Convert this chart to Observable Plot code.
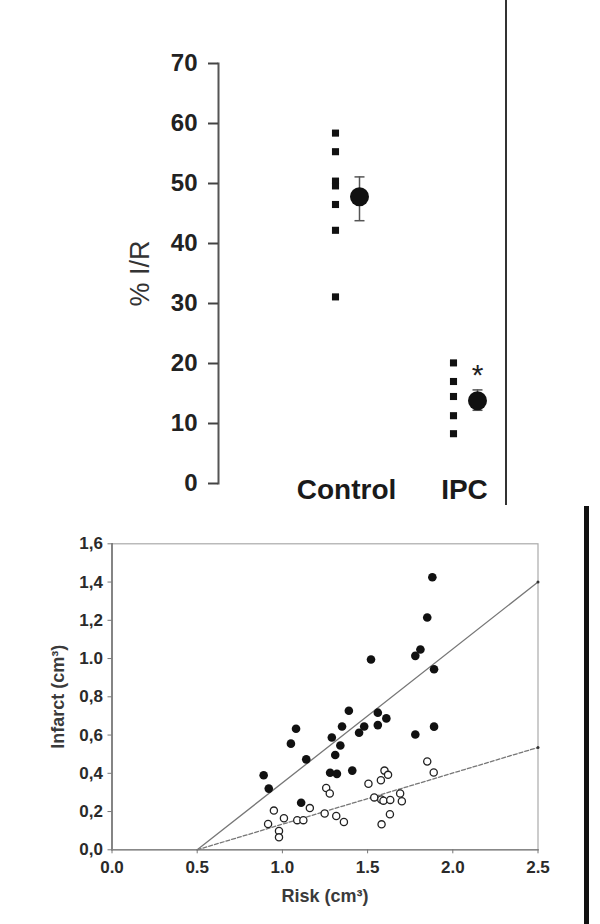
<!DOCTYPE html>
<html><head><meta charset="utf-8">
<script src="https://cdn.jsdelivr.net/npm/d3@7"></script>
<script src="https://cdn.jsdelivr.net/npm/@observablehq/plot@0.6"></script>
<style>
body{margin:0;background:#fff;}
#wrap{position:relative;width:600px;height:924px;overflow:hidden;font-family:"Liberation Sans",Arial,sans-serif;}
#top{position:absolute;left:0;top:0;}
#bottom{position:absolute;left:0;top:505px;}
.vline{position:absolute;}
</style></head><body>
<div id="wrap"><div id="top"></div><div id="bottom"></div>
<div class="vline" style="left:505px;top:0;width:2px;height:505px;background:#333"></div>
<div class="vline" style="left:584px;top:506px;width:5px;height:418px;background:#111"></div>
</div>
<script>
// ---- Top panel data ----
const categories = ["Control", "IPC"];
const controlValues = [58.4, 55.3, 50.4, 49.6, 46.5, 42.2, 31.1];
const ipcValues = [20.1, 17.0, 14.5, 11.3, 8.3];
const meanValues = [47.8, 13.8];
const semHigh = [51.1, 15.6];
const semLow = [43.8, 12.2];
const topTicks = [0, 10, 20, 30, 40, 50, 60, 70];
const topYLabel = "% I/R";
const starGroup = ["IPC"];
const starY = [18.0];

// ---- Bottom panel data ----
const ctrlRisk = [0.89, 0.92, 1.05, 1.08, 1.14, 1.11, 1.29, 1.28, 1.32, 1.31, 1.34, 1.35, 1.39, 1.41, 1.45, 1.48, 1.52, 1.56, 1.56, 1.61, 1.78, 1.81, 1.78, 1.85, 1.88, 1.89, 1.89];
const ctrlInfarct = [0.39, 0.32, 0.555, 0.633, 0.473, 0.246, 0.587, 0.403, 0.397, 0.496, 0.545, 0.645, 0.727, 0.414, 0.612, 0.645, 0.995, 0.717, 0.652, 0.687, 1.014, 1.047, 0.603, 1.215, 1.425, 0.944, 0.644];
const ipcRisk = [0.916, 0.95, 0.98, 0.98, 1.009, 1.087, 1.123, 1.161, 1.248, 1.257, 1.278, 1.316, 1.361, 1.505, 1.539, 1.578, 1.599, 1.62, 1.58, 1.593, 1.633, 1.582, 1.631, 1.691, 1.701, 1.85, 1.888];
const ipcInfarct = [0.135, 0.205, 0.098, 0.065, 0.165, 0.155, 0.155, 0.218, 0.19, 0.323, 0.294, 0.177, 0.145, 0.345, 0.274, 0.364, 0.414, 0.392, 0.263, 0.257, 0.261, 0.133, 0.186, 0.294, 0.254, 0.462, 0.404];
const fitRisk = [0.5, 2.5];
const ctrlFit = [0, 1.40];
const ipcFit = [0, 0.535];
const xTicks = [0, 0.5, 1.0, 1.5, 2.0, 2.5];
const xTickLabels = ["0.0", "0.5", "1.0", "1.5", "2.0", "2.5"];
const yTicks = [0, 0.2, 0.4, 0.6, 0.8, 1.0, 1.2, 1.4, 1.6];
const yTickLabels = ["0,0", "0,2", "0,4", "0,6", "0,8", "1.0", "1,2", "1,4", "1,6"];
const xLabel = "Risk (cm³)";
const yLabel = "Infarct (cm³)";

const FONT = "'Liberation Sans', Arial, sans-serif";

// ---- Top plot ----
const topData = [
  ...controlValues.map(v => ({group: categories[0], value: v})),
  ...ipcValues.map(v => ({group: categories[1], value: v}))
];
const meanData = categories.map((c, i) => ({group: c, mean: meanValues[i], lo: semLow[i], hi: semHigh[i]}));
const starData = starGroup.map((g, i) => ({group: g, y: starY[i], t: "*"}));
const capSymbol = {draw(ctx, size) { const w = Math.sqrt(size / Math.PI); ctx.moveTo(-w, 0); ctx.lineTo(w, 0); }};

const topPlot = Plot.plot({
  width: 600, height: 510,
  marginLeft: 218, marginRight: 94, marginTop: 63, marginBottom: 27,
  style: {fontFamily: FONT, background: "transparent", overflow: "visible"},
  x: {type: "point", domain: categories, range: [335, 453], padding: 0},
  y: {domain: [0, 70]},
  marks: [
    Plot.frame({anchor: "left", stroke: "#555", strokeWidth: 2}),
    Plot.axisY({ticks: topTicks, tickSize: 10, tickPadding: 11, fontSize: 24, fontWeight: "bold", fill: "#222", stroke: "#444", strokeWidth: 2, label: null}),
    Plot.axisX({tickSize: 0, tickPadding: -4, fontSize: 28, fontWeight: "bold", fill: "#1a1a1a", dx: 11, label: null}),
    Plot.text([topYLabel], {frameAnchor: "left", text: d => d, rotate: -90, dx: -78, textAnchor: "middle", lineAnchor: "middle", fontSize: 27, fill: "#333"}),
    Plot.dot(topData, {x: "group", y: "value", symbol: "square", r: 4, fill: "#111"}),
    Plot.ruleX(meanData, {x: "group", y1: "lo", y2: "hi", dx: 24, stroke: "#555", strokeWidth: 1.5}),
    Plot.dot(meanData, {x: "group", y: "hi", dx: 24, symbol: capSymbol, r: 5, stroke: "#555", strokeWidth: 1.5}),
    Plot.dot(meanData, {x: "group", y: "lo", dx: 24, symbol: capSymbol, r: 5, stroke: "#555", strokeWidth: 1.5}),
    Plot.dot(meanData, {x: "group", y: "mean", dx: 24, r: 9.5, fill: "#111"}),
    Plot.text(starData, {x: "group", y: "y", text: "t", dx: 24, fontSize: 30, fill: "#222"})
  ]
});
document.getElementById("top").appendChild(topPlot);

// ---- Bottom plot ----
const ctrlPts = ctrlRisk.map((r, i) => ({risk: r, infarct: ctrlInfarct[i]}));
const ipcPts = ipcRisk.map((r, i) => ({risk: r, infarct: ipcInfarct[i]}));
const ctrlLine = fitRisk.map((r, i) => ({risk: r, infarct: ctrlFit[i]}));
const ipcLine = fitRisk.map((r, i) => ({risk: r, infarct: ipcFit[i]}));

const bottomPlot = Plot.plot({
  width: 600, height: 419,
  marginLeft: 111.5, marginRight: 62.5, marginTop: 38.3, marginBottom: 74.7,
  style: {fontFamily: FONT, background: "transparent", overflow: "visible"},
  x: {domain: [0, 2.5]},
  y: {domain: [0, 1.6]},
  marks: [
    Plot.frame({stroke: "#aaa", strokeWidth: 1.2}),
    Plot.frame({anchor: "left", stroke: "#666", strokeWidth: 1.4}),
    Plot.frame({anchor: "bottom", stroke: "#888", strokeWidth: 1.4}),
    Plot.axisY({ticks: yTicks, tickFormat: d => yTickLabels[yTicks.indexOf(d)], tickSize: 4, tickPadding: 5, fontSize: 17, fontWeight: "bold", fill: "#2a2a2a", stroke: "#777", label: null}),
    Plot.axisX({ticks: xTicks, tickFormat: d => xTickLabels[xTicks.indexOf(d)], tickSize: 4, tickPadding: 7, fontSize: 17, fontWeight: "bold", fill: "#2a2a2a", stroke: "#777", label: null}),
    Plot.text([yLabel], {frameAnchor: "left", text: d => d, rotate: -90, dx: -54, textAnchor: "middle", lineAnchor: "middle", fontSize: 18, fontWeight: "bold", fill: "#3a3a3a"}),
    Plot.text([xLabel], {frameAnchor: "bottom", text: d => d, dy: 46, textAnchor: "middle", lineAnchor: "middle", fontSize: 18, fontWeight: "bold", fill: "#3a3a3a"}),
    Plot.line(ctrlLine, {x: "risk", y: "infarct", stroke: "#777", strokeWidth: 1.3}),
    Plot.line(ipcLine, {x: "risk", y: "infarct", stroke: "#777", strokeWidth: 1.3, strokeDasharray: "4,2"}),
    Plot.dot([...ctrlLine.slice(1), ...ipcLine.slice(1)], {x: "risk", y: "infarct", r: 1.5, fill: "#333"}),
    Plot.dot(ctrlPts, {x: "risk", y: "infarct", r: 4.3, fill: "#111"}),
    Plot.dot(ipcPts, {x: "risk", y: "infarct", r: 3.6, fill: "white", stroke: "#222", strokeWidth: 1.3})
  ]
});
document.getElementById("bottom").appendChild(bottomPlot);
</script>
</body></html>
